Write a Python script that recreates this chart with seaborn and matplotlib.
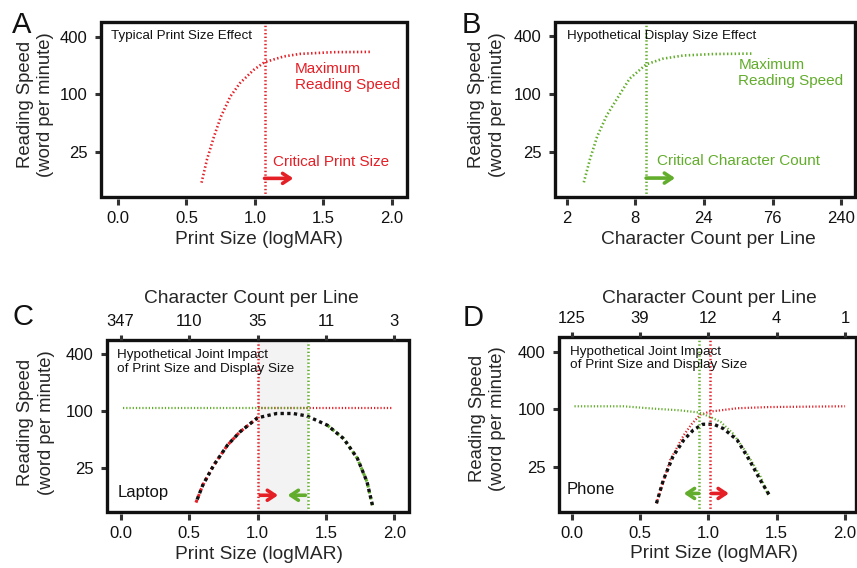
import seaborn as sns
import matplotlib.pyplot as plt
from matplotlib.patches import Rectangle

# ---- data ----
# A: typical print size effect (x = logMAR, y = words per minute)
a_x = [0.61, 0.65, 0.70, 0.75, 0.82, 0.89, 0.99, 1.07, 1.21, 1.33, 1.57, 1.84]
a_y = [12, 21, 36, 58, 95, 131, 180, 217, 249, 265, 276, 278]
a_cps = 1.07

# B: hypothetical display size effect (x = characters per line)
b_x = [3.2, 3.55, 4.0, 4.7, 5.6, 6.9, 9.1, 12, 17, 28, 55]
b_y = [12, 21, 36, 60, 90, 145, 204, 234, 253, 262, 265]
b_ccc = 9.1

# C: laptop, joint impact
c_x = [0.55, 0.60, 0.68, 0.78, 0.87, 1.0, 1.14, 1.26, 1.36, 1.51, 1.63, 1.73, 1.80, 1.84]
c_y = [10.7, 16.4, 26.7, 43.5, 60, 85, 94.5, 94.5, 89, 71, 51, 31.5, 17.8, 10]
c_red_x = [1.0, 1.99]
c_red_y = [107, 107]
c_green_x = [0.02, 1.37]
c_green_y = [107, 107]
c_cps, c_ccc = 1.0, 1.37

# D: phone, joint impact
d_x = [0.62, 0.67, 0.74, 0.82, 0.89, 0.96, 1.04, 1.11, 1.21, 1.30, 1.38, 1.45]
d_y = [10.4, 18.2, 32, 48, 61, 70, 70, 63, 48, 29.5, 18.2, 12.4]
d_red_x = [0.62, 0.72, 0.82, 0.88, 0.94, 1.01, 1.09, 1.21, 1.44, 2.0]
d_red_y = [10.4, 29.5, 54, 71, 88, 95, 98, 103, 106, 108]
d_green_x = [0.02, 0.38, 0.60, 0.79, 0.93, 1.01, 1.09, 1.18, 1.28, 1.38, 1.44]
d_green_y = [108, 108, 102, 98, 93, 84, 74, 56, 35, 20, 12.4]
d_cps, d_ccc = 1.01, 0.93

logmar_ticks = [0.0, 0.5, 1.0, 1.5, 2.0]
logmar_labels = ['0.0', '0.5', '1.0', '1.5', '2.0']
b_ticks = [2.4, 7.6, 24, 76, 240]
b_labels = ['2', '8', '24', '76', '240']
c_top_labels = ['347', '110', '35', '11', '3']
d_top_labels = ['125', '39', '12', '4', '1']
speed_ticks = [25, 100, 400]
speed_labels = ['25', '100', '400']

RED = '#e41f26'
GREEN = '#62ad2c'
DOT = (0, (0.55, 0.9))

sns.set_theme(style='white')
plt.rcParams['font.family'] = ['Liberation Sans', 'DejaVu Sans']

fig = plt.figure(figsize=(8.57, 5.68), dpi=100)
W, H = 857, 568


def make_ax(l, t, r, b):
    return fig.add_axes([l / W, 1 - b / H, (r - l) / W, (b - t) / H])


def style(ax, xlim, xticks, xlabels, xlabel, xlab_pos, ylab_pos):
    ax.set_yscale('log')
    ax.set_ylim(8.5, 570)
    ax.set_xlim(*xlim)
    ax.set_yticks(speed_ticks)
    ax.set_yticklabels(speed_labels)
    ax.minorticks_off()
    ax.set_xticks(xticks)
    ax.set_xticklabels(xlabels)
    for s in ['top', 'right', 'left', 'bottom']:
        ax.spines[s].set_visible(False)
    ax.spines['bottom'].set_position(('outward', 1.5))
    ax.spines['left'].set_position(('outward', 0.8))
    ax.tick_params(axis='x', bottom=True, length=4.3, width=2.2, color='#333333',
                   labelsize=12, pad=4.5, labelcolor='#111111')
    ax.tick_params(axis='y', left=True, length=3.6, width=2.2, color='#333333',
                   labelsize=12, pad=5.5, labelcolor='#111111')
    ax.add_patch(Rectangle((0, 0), 1, 1, transform=ax.transAxes, fill=False,
                           lw=2.4, ec='#111111', clip_on=False, zorder=10))
    ax.set_xlabel(xlabel, fontsize=13.8, va='top')
    ax.xaxis.set_label_coords(*xlab_pos)
    ax.set_ylabel('Reading Speed\n(word per minute)', fontsize=13.3, linespacing=1.3)
    ax.yaxis.set_label_coords(*ylab_pos)
    ax.grid(False)


def top_axis(ax, labels, lab_pos):
    tx = ax.twiny()
    tx.set_xlim(ax.get_xlim())
    tx.set_xticks(logmar_ticks)
    tx.set_xticklabels(labels)
    for s in tx.spines.values():
        s.set_visible(False)
    tx.tick_params(axis='x', top=True, length=3.6, width=2.2, color='#333333',
                   labelsize=12, pad=4.5, labelcolor='#111111')
    tx.set_xlabel('Character Count per Line', fontsize=13.8, va='bottom')
    tx.xaxis.set_label_coords(*lab_pos)
    tx.grid(False)


def dotted(ax, x, y, color, lw=1.9):
    sns.lineplot(x=x, y=y, ax=ax, color=color, lw=lw, linestyle=DOT)


def joint(ax, x, y, split_lo, split_hi):
    lo = [i for i, v in enumerate(x) if v <= split_lo]
    hi = [i for i, v in enumerate(x) if v >= split_hi]
    sns.lineplot(x=[x[i] for i in lo], y=[y[i] for i in lo], ax=ax, color=RED,
                 lw=2.2, linestyle=(0, (1, 1)))
    sns.lineplot(x=[x[i] for i in hi], y=[y[i] for i in hi], ax=ax, color=GREEN,
                 lw=2.2, linestyle=(0, (1, 1)))
    sns.lineplot(x=x, y=y, ax=ax, color='#111111', lw=2.4, linestyle=(1, (1, 1)))


def arrow(ax, x0, x1, y, color):
    ax.annotate('', xy=(x1, y), xytext=(x0, y),
                arrowprops=dict(arrowstyle='->,head_length=0.45,head_width=0.3',
                                color=color, lw=2.6, shrinkA=0, shrinkB=0))


# ---- A ----
ax = make_ax(101, 22, 407, 197)
dotted(ax, a_x, a_y, RED)
ax.axvline(a_cps, color=RED, lw=1.8, linestyle=DOT)
arrow(ax, a_cps, 1.28, 13.3, RED)
ax.text(0.033, 0.955, 'Typical Print Size Effect', transform=ax.transAxes,
        fontsize=9.6, va='top', color='#111111')
ax.text(0.634, 0.77, 'Maximum\nReading Speed', transform=ax.transAxes,
        fontsize=11, va='top', color=RED, linespacing=1.15)
ax.text(0.562, 0.24, 'Critical Print Size', transform=ax.transAxes,
        fontsize=11, va='top', color=RED)
style(ax, (-0.124, 2.11), logmar_ticks, logmar_labels, 'Print Size (logMAR)',
      (0.516, -0.197), (-0.152, 0.53))

# ---- B ----
ax = make_ax(555, 21.7, 855, 196.7)
dotted(ax, b_x, b_y, GREEN)
ax.axvline(b_ccc, color=GREEN, lw=1.8, linestyle=DOT)
arrow(ax, b_ccc, 14.8, 13.3, GREEN)
ax.text(0.039, 0.955, 'Hypothetical Display Size Effect', transform=ax.transAxes,
        fontsize=9.6, va='top', color='#111111')
ax.text(0.611, 0.79, 'Maximum\nReading Speed', transform=ax.transAxes,
        fontsize=11, va='top', color=GREEN, linespacing=1.15)
ax.text(0.339, 0.245, 'Critical Character Count', transform=ax.transAxes,
        fontsize=11, va='top', color=GREEN)
ax.set_xscale('log')
style(ax, (1.973, 303), b_ticks, b_labels, 'Character Count per Line',
      (0.512, -0.198), (-0.162, 0.525))

# ---- C ----
ax = make_ax(107, 340, 409, 512)
ax.axvspan(c_cps, c_ccc, color='#f3f3f3', zorder=0, lw=0)
dotted(ax, c_red_x, c_red_y, RED, lw=1.6)
dotted(ax, c_green_x, c_green_y, GREEN, lw=1.6)
joint(ax, c_x, c_y, c_cps, c_ccc)
ax.axvline(c_cps, color=RED, lw=1.8, linestyle=DOT)
ax.axvline(c_ccc, color=GREEN, lw=1.8, linestyle=DOT)
arrow(ax, 1.02, 1.15, 12.8, RED)
arrow(ax, 1.35, 1.22, 12.8, GREEN)
ax.text(0.034, 0.945, 'Hypothetical Joint Impact\nof Print Size and Display Size',
        transform=ax.transAxes, fontsize=9.7, va='top', color='#111111', linespacing=1.2)
ax.text(0.034, 0.087, 'Laptop', transform=ax.transAxes, fontsize=12,
        va='baseline', color='#111111')
style(ax, (-0.100, 2.107), logmar_ticks, logmar_labels, 'Print Size (logMAR)',
      (0.503, -0.2), (-0.173, 0.52))
top_axis(ax, c_top_labels, (0.477, 1.19))

# ---- D ----
ax = make_ax(559.3, 337.3, 856, 511.7)
dotted(ax, d_red_x, d_red_y, RED, lw=1.6)
dotted(ax, d_green_x, d_green_y, GREEN, lw=1.6)
sns.lineplot(x=d_x, y=d_y, ax=ax, color='#111111', lw=2.4, linestyle=(0, (1, 1)))
ax.axvline(d_ccc, color=GREEN, lw=1.8, linestyle=DOT)
ax.axvline(d_cps, color=RED, lw=1.8, linestyle=DOT)
arrow(ax, 0.93, 0.82, 13.2, GREEN)
arrow(ax, 1.02, 1.15, 13.2, RED)
ax.text(0.036, 0.952, 'Hypothetical Joint Impact\nof Print Size and Display Size',
        transform=ax.transAxes, fontsize=9.7, va='top', color='#111111', linespacing=1.2)
ax.text(0.025, 0.10, 'Phone', transform=ax.transAxes, fontsize=12,
        va='baseline', color='#111111')
style(ax, (-0.091, 2.08), logmar_ticks, logmar_labels, 'Print Size (logMAR)',
      (0.52, -0.189), (-0.178, 0.533))
top_axis(ax, d_top_labels, (0.506, 1.172))

# panel letters
for letter, x, y in [('A', 12, 33), ('B', 462, 33), ('C', 12, 325), ('D', 463, 326)]:
    fig.text(x / W, 1 - y / H, letter, fontsize=21, va='baseline', color='#111111')

fig.savefig('out.png', dpi=100)
